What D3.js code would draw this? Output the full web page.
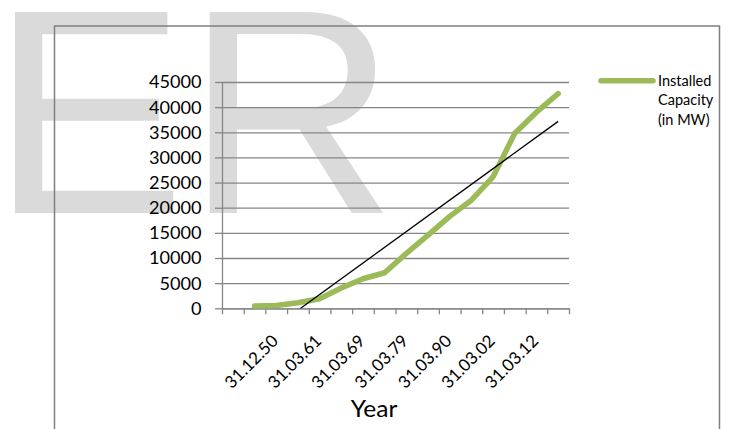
<!DOCTYPE html>
<html lang="en">

<head>
    <meta charset="UTF-8">
    <title>installed capacity</title>
    <script src="https://cdnjs.cloudflare.com/ajax/libs/d3/7.8.5/d3.min.js"></script>
    <style>
        body {
            margin: 0;
            background: #fff;
        }

        svg {
            display: block;
        }

        .watermark {
            font-family: "Liberation Sans", Arial, sans-serif;
            font-size: 292px;
            fill: #dadada;
        }

        .frame {
            fill: none;
            stroke: #7f7f7f;
            stroke-width: 1.5;
        }

        .axis text,
        .legend text,
        .axis-title {
            font-family: Lato, sans-serif;
            fill: #000;
        }

        .axis path,
        .axis line,
        .grid line {
            stroke: #868686;
            stroke-width: 1.3;
        }

        .grid path {
            display: none;
        }

        .capacity-line {
            fill: none;
            stroke: #9bbb59;
            stroke-width: 5.5;
            stroke-linejoin: round;
            stroke-linecap: round;
        }

        .trend-line {
            fill: none;
            stroke: #000;
            stroke-width: 1.3;
        }
    </style>
</head>

<body>
    <div class="chart"></div>
    <script>
        // only every second category carries a visible label
        var categories = ["", "", "31.12.50", "", "31.03.61", "", "31.03.69", "", "31.03.79", "", "31.03.90", "", "31.03.02", "", "31.03.12", ""];
        var capacity = [null, 460, 560, 1110, 1910, 4030, 5880, 7070, 10920, 14560, 18270, 21500, 26140, 34800, 39000, 42700];
        var yTicks = [0, 5000, 10000, 15000, 20000, 25000, 30000, 35000, 40000, 45000];
        var legendLines = ["Installed", "Capacity", "(in MW)"];
        var xTitle = "Year";
        var watermark = "ER";

        var width = 729,
            height = 429;
        var plotLeft = 222,
            plotRight = 569,
            plotTop = 82,
            plotBottom = 308.3;
        var stretch = 1.1; // text in the picture is a bit wide

        var svg = d3.select(".chart").append("svg")
            .attr("width", width)
            .attr("height", height);

        svg.append("text")
            .attr("class", "watermark")
            .attr("x", -9)
            .attr("y", 213)
            .text(watermark);

        svg.append("rect")
            .attr("class", "frame")
            .attr("x", 54.5)
            .attr("y", 26)
            .attr("width", 665)
            .attr("height", 430);

        var x = d3.scaleBand()
            .domain(d3.range(categories.length))
            .range([plotLeft, plotRight]);
        var xEdge = d3.scaleLinear()
            .domain([0, categories.length])
            .range([plotLeft, plotRight]);
        var y = d3.scaleLinear()
            .domain([0, 45000])
            .range([plotBottom, plotTop]);

        // gridlines
        svg.append("g")
            .attr("class", "grid")
            .attr("transform", "translate(" + plotLeft + ",0)")
            .call(d3.axisLeft(y).tickValues(yTicks).tickSize(-(plotRight - plotLeft)).tickFormat(""));

        var yAxis = svg.append("g")
            .attr("class", "axis")
            .attr("transform", "translate(" + plotLeft + ",0)")
            .call(d3.axisLeft(y).tickValues(yTicks).tickSize(7).tickSizeOuter(0).tickFormat(d3.format("d")));
        yAxis.selectAll("text")
            .attr("x", 0)
            .attr("dy", "0.36em")
            .attr("font-size", 16.5)
            .attr("transform", "translate(-20.5,0) scale(" + stretch + ",1)");

        svg.append("g")
            .attr("class", "axis")
            .attr("transform", "translate(0," + plotBottom + ")")
            .call(d3.axisBottom(xEdge).tickValues(d3.range(categories.length + 1)).tickSize(6).tickSizeOuter(0).tickFormat(""));

        svg.append("g")
            .attr("class", "axis")
            .selectAll("text")
            .data(d3.range(categories.length).filter(function(i) {
                return categories[i] != "";
            }))
            .enter()
            .append("text")
            .attr("text-anchor", "end")
            .attr("font-size", 17)
            .attr("transform", function(i) {
                var cx = x(i) + x.bandwidth() / 2;
                return "translate(" + (cx + 3) + ",342) rotate(-45)";
            })
            .text(function(i) {
                return categories[i];
            });

        svg.append("text")
            .attr("class", "axis-title")
            .attr("font-size", 22.3)
            .attr("text-anchor", "middle")
            .attr("transform", "translate(374,416.7) scale(" + stretch + ",1)")
            .text(xTitle);

        // linear trend line of the series, clipped to the plot area
        var pts = [];
        capacity.forEach(function(v, i) {
            if (v != null) pts.push([i, v]);
        });
        var mx = d3.mean(pts, function(p) { return p[0]; });
        var my = d3.mean(pts, function(p) { return p[1]; });
        var sxy = d3.sum(pts, function(p) { return (p[0] - mx) * (p[1] - my); });
        var sxx = d3.sum(pts, function(p) { return (p[0] - mx) * (p[0] - mx); });
        var slope = sxy / sxx;
        var icpt = my - slope * mx;
        var trend = [pts[0][0], pts[pts.length - 1][0]].map(function(i) {
            return [i, icpt + slope * i];
        });

        svg.append("clipPath")
            .attr("id", "plot-clip")
            .append("rect")
            .attr("x", plotLeft)
            .attr("y", plotTop)
            .attr("width", plotRight - plotLeft)
            .attr("height", plotBottom - plotTop);

        var line = d3.line()
            .defined(function(d) { return d != null; })
            .x(function(d, i) { return x(i) + x.bandwidth() / 2; })
            .y(function(d) { return y(d); });

        svg.append("path")
            .datum(capacity)
            .attr("class", "capacity-line")
            .attr("d", line);

        svg.append("path")
            .datum(trend)
            .attr("class", "trend-line")
            .attr("clip-path", "url(#plot-clip)")
            .attr("d", d3.line()
                .x(function(d) { return x(d[0]) + x.bandwidth() / 2; })
                .y(function(d) { return y(d[1]); }));

        // legend
        var legend = svg.append("g").attr("class", "legend");
        legend.append("line")
            .attr("class", "capacity-line")
            .attr("x1", 601)
            .attr("x2", 653)
            .attr("y1", 80.7)
            .attr("y2", 80.7);
        legend.selectAll("text")
            .data(legendLines)
            .enter()
            .append("text")
            .attr("font-size", 14.5)
            .attr("x", 658)
            .attr("y", function(d, i) {
                return 85.5 + i * 19.5;
            })
            .text(function(d) {
                return d;
            });
    </script>
</body>

</html>
